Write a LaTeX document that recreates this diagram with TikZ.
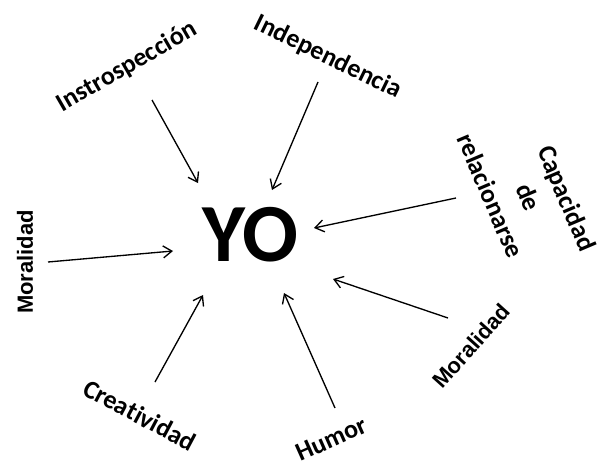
\documentclass[tikz,border=0pt]{standalone}
\usepackage{fontspec}
\setmainfont{Carlito}[Ligatures=NoCommon]
\newfontfamily\arialfont{Liberation Sans}
\usetikzlibrary{arrows.meta}
\tikzset{
    etiqueta/.style={font=\fontsize{19.5}{26}\selectfont\bfseries, inner sep=1pt},
    etiquetab/.style={font=\arialfont\fontsize{16.5}{20}\selectfont\bfseries, inner sep=1pt},
    flecha/.style={line width=1pt, -{Straight Barb[length=6.5pt,width=9pt]}}
}
\begin{document}
\begin{tikzpicture}[x=0.75pt, y=-0.75pt]
        \useasboundingbox (0, 0) rectangle (598, 463);
        \node[font=\fontsize{62}{70}\selectfont\bfseries, inner sep=0pt] (yo) at (250, 235) {YO};
        \node[etiqueta, rotate=30] (intro) at (127, 67) {Instrospección};
        \node[etiqueta, rotate=-26] (indep) at (328, 57) {Independencia};
        \node[etiqueta, rotate=-67, align=center, font=\fontsize{19.5}{26}\selectfont\bfseries] (capac) at (529, 197) {\hspace*{24pt}Capacidad\\de\\relacionarse\hspace*{24pt}};
        \node[etiquetab, rotate=90] (moralA) at (25, 262) {Moralidad};
        \node[etiqueta, rotate=-28] (creat) at (140, 415) {Creatividad};
        \node[etiqueta, rotate=24] (humor) at (331, 439) {Humor};
        \node[etiquetab, rotate=48] (moralB) at (471, 346) {Moralidad};
        \coordinate (intro-a) at (152, 100);
        \coordinate (intro-b) at (198, 183);
        \coordinate (indep-a) at (318, 82);
        \coordinate (indep-b) at (272, 190);
        \coordinate (capac-a) at (456, 198);
        \coordinate (capac-b) at (314, 228);
        \coordinate (moralA-a) at (48, 262);
        \coordinate (moralA-b) at (173, 251);
        \coordinate (creat-a) at (155, 382);
        \coordinate (creat-b) at (203, 295);
        \coordinate (humor-a) at (335, 408);
        \coordinate (humor-b) at (284, 293);
        \coordinate (moralB-a) at (448, 318);
        \coordinate (moralB-b) at (333, 279);
        \draw[flecha] (intro-a) -- (intro-b);
        \draw[flecha] (indep-a) -- (indep-b);
        \draw[flecha] (capac-a) -- (capac-b);
        \draw[flecha] (moralA-a) -- (moralA-b);
        \draw[flecha] (creat-a) -- (creat-b);
        \draw[flecha] (humor-a) -- (humor-b);
        \draw[flecha] (moralB-a) -- (moralB-b);
    \end{tikzpicture}
\end{document}
